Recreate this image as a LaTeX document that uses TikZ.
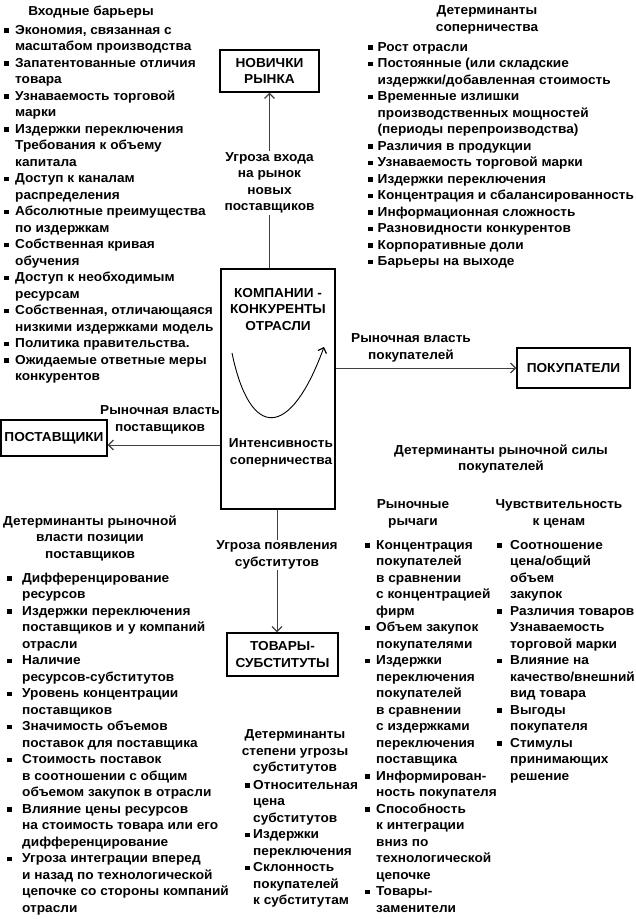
\documentclass[tikz,border=0pt]{standalone}
\usepackage{fontspec}
\setmainfont{Liberation Sans}[FakeStretch=1.05]
\usetikzlibrary{arrows.meta}
\newcommand{\blt}{\rule[1.2pt]{4.5pt}{4.5pt}}
\newcommand{\bullist}[2]{\begin{tabular}[t]{@{}l@{\hspace{#1}}l@{}}#2\end{tabular}}

\begin{document}
\begin{tikzpicture}[x=1pt,y=-1pt,
    every node/.style={font=\fontsize{13}{16.5}\selectfont\bfseries},
    box/.style={draw,line width=1.1pt,align=center,inner sep=0pt},
    lst/.style={inner sep=0pt,anchor=base west},
    ttl/.style={align=center,inner sep=0pt},
    lbl/.style={align=center,inner sep=1pt,fill=white},
    arr/.style={draw=black!75,line width=0.8pt,-{Straight Barb[length=5pt,width=10pt,line width=1.3pt]}}]
  \useasboundingbox (0,0) rectangle (636,919);
  % boxes
  \node[box,minimum width=99pt,minimum height=42pt] (nov) at (269.5,71) {НОВИЧКИ\\РЫНКА};
  \node[box,minimum width=114pt,minimum height=240pt] (comp) at (278,389) {};
  \node[box,minimum width=113pt,minimum height=40pt] (buy) at (573.5,368) {ПОКУПАТЕЛИ};
  \node[box,minimum width=106pt,minimum height=36pt] (sup) at (54,438) {ПОСТАВЩИКИ};
  \node[box,minimum width=111pt,minimum height=43pt] (sub) at (282.5,654.5) {ТОВАРЫ-\\СУБСТИТУТЫ};
  \node[ttl] (compname) at (278,309.5) {КОМПАНИИ -\\КОНКУРЕНТЫ\\ОТРАСЛИ};
  \node[ttl] (intens) at (281,453) {Интенсивность\\соперничества};
  \draw[line width=0.9pt,-{Straight Barb[length=4.5pt,width=9pt,line width=1.2pt]}]
    (232,353) .. controls (250,440) and (290,440) .. (324,347);
  % connectors
  \coordinate (supin) at ([yshift=-7pt]sup.east);
  \coordinate (subin) at ([xshift=-5.5pt]sub.north);
  \draw[arr] (comp.north -| nov.south) -- (nov.south);
  \draw[arr] (comp.east |- buy.west) -- (buy.west);
  \draw[arr] (comp.west |- supin) -- (supin);
  \draw[arr] (comp.south -| subin) -- (subin);
  \node[lbl] (entry) at (269.5,183) {Угроза входа\\на рынок\\новых\\поставщиков};
  \node[ttl] (buypow) at (411,348) {Рыночная власть\\покупателей};
  \node[ttl] (suppow) at (160,420) {Рыночная власть\\поставщиков};
  \node[lbl] (subthr) at (277,555) {Угроза появления\\субститутов};
  % titles
  \node[ttl] (barrt) at (91,12) {Входные барьеры};
  \node[ttl] (rivt) at (487,20) {Детерминанты\\соперничества};
  \node[ttl] (buyt) at (501,459) {Детерминанты рыночной силы\\покупателей};
  \node[ttl] (levt) at (413,514) {Рыночные\\рычаги};
  \node[ttl] (prit) at (559,514) {Чувствительность\\к ценам};
  \node[ttl] (supt) at (90,538) {Детерминанты рыночной\\власти позиции\\поставщиков};
  \node[ttl] (subt) at (295,752) {Детерминанты\\степени угрозы\\субститутов};
  % lists
  \node[lst] (barr) at (4,34) {\bullist{6.5pt}{
    \blt & Экономия, связанная с\\
         & масштабом производства\\
    \blt & Запатентованные отличия\\
         & товара\\
    \blt & Узнаваемость торговой\\
         & марки\\
    \blt & Издержки переключения\\
         & Требования к объему\\
         & капитала\\
    \blt & Доступ к каналам\\
         & распределения\\
    \blt & Абсолютные преимущества\\
         & по издержкам\\
    \blt & Собственная кривая\\
         & обучения\\
    \blt & Доступ к необходимым\\
         & ресурсам\\
    \blt & Собственная, отличающаяся\\
         & низкими издержками модель\\
    \blt & Политика правительства.\\
    \blt & Ожидаемые ответные меры\\
         & конкурентов}};
  \node[lst] (riv) at (368,51) {\bullist{5pt}{
    \blt & Рост отрасли\\
    \blt & Постоянные (или складские\\
         & издержки/добавленная стоимость\\
    \blt & Временные излишки\\
         & производственных мощностей\\
         & (периоды перепроизводства)\\
    \blt & Различия в продукции\\
    \blt & Узнаваемость торговой марки\\
    \blt & Издержки переключения\\
    \blt & Концентрация и сбалансированность\\
    \blt & Информационная сложность\\
    \blt & Разновидности конкурентов\\
    \blt & Корпоративные доли\\
    \blt & Барьеры на выходе}};
  \node[lst] (supl) at (7,582) {\bullist{10.5pt}{
    \blt & Дифференцирование\\
         & ресурсов\\
    \blt & Издержки переключения\\
         & поставщиков и у компаний\\
         & отрасли\\
    \blt & Наличие\\
         & ресурсов-субститутов\\
    \blt & Уровень концентрации\\
         & поставщиков\\
    \blt & Значимость объемов\\
         & поставок для поставщика\\
    \blt & Стоимость поставок\\
         & в соотношении с общим\\
         & объемом закупок в отрасли\\
    \blt & Влияние цены ресурсов\\
         & на стоимость товара или его\\
         & дифференцирование\\
    \blt & Угроза интеграции вперед\\
         & и назад по технологической\\
         & цепочке со стороны компаний\\
         & отрасли}};
  \node[lst] (subl) at (245,789) {\bullist{3.5pt}{
    \blt & Относительная\\
         & цена\\
         & субститутов\\
    \blt & Издержки\\
         & переключения\\
    \blt & Склонность\\
         & покупателей\\
         & к субститутам}};
  \node[lst] (levl) at (365,549) {\bullist{6.5pt}{
    \blt & Концентрация\\
         & покупателей\\
         & в сравнении\\
         & с концентрацией\\
         & фирм\\
    \blt & Объем закупок\\
         & покупателями\\
    \blt & Издержки\\
         & переключения\\
         & покупателей\\
         & в сравнении\\
         & с издержками\\
         & переключения\\
         & поставщика\\
    \blt & Информирован-\\
         & ность покупателя\\
    \blt & Способность\\
         & к интеграции\\
         & вниз по\\
         & технологической\\
         & цепочке\\
    \blt & Товары-\\
         & заменители}};
  \node[lst] (pril) at (497,549) {\bullist{8.5pt}{
    \blt & Соотношение\\
         & цена/общий\\
         & объем\\
         & закупок\\
    \blt & Различия товаров\\
         & Узнаваемость\\
         & торговой марки\\
    \blt & Влияние на\\
         & качество/внешний\\
         & вид товара\\
    \blt & Выгоды\\
         & покупателя\\
    \blt & Стимулы\\
         & принимающих\\
         & решение}};
\end{tikzpicture}
\end{document}
